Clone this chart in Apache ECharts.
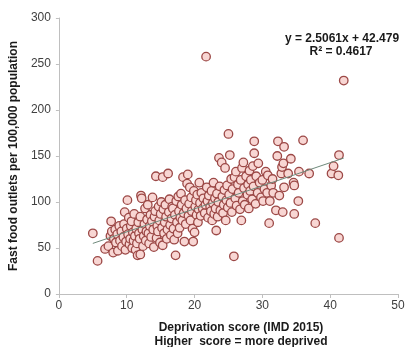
<!DOCTYPE html>
<html>
<head>
<meta charset="utf-8">
<script src="https://cdn.jsdelivr.net/npm/echarts@6/dist/echarts.min.js"></script>
<style>html,body{margin:0;padding:0;background:#fff}#c{width:417px;height:347px}</style>
</head>
<body>
<div id="c"></div>
<script>
// Deprivation score (x) vs fast food outlets per 100,000 (y)
const points = [
[5.0,66],[5.7,36],[6.8,49],[7.3,52],[7.6,63],[7.7,79],[7.8,68],[8.0,45],[8.1,60],[8.3,70],[8.4,56],[8.6,65],[8.7,47],[8.9,74],[9.0,58],
[9.2,68],[9.3,52],[9.5,62],[9.6,76],[9.7,89],[9.8,48],[9.9,57],[10.0,71],[10.1,102],[10.2,65],[10.3,83],[10.4,54],[10.5,60],[10.6,74],[10.7,79],[10.8,50],[10.9,67],[11.0,58],[11.1,87],[11.2,63],[11.3,48],[11.4,71],[11.5,55],[11.6,42],[11.7,78],[11.8,66],[11.9,60],
[12.0,43],[12.0,84],[12.1,107],[12.2,104],[12.3,70],[12.4,52],[12.5,63],[12.6,76],[12.7,93],[12.8,58],[12.9,68],[13.0,81],[13.1,97],[13.2,66],[13.3,55],[13.4,74],[13.5,86],[13.6,62],[13.7,79],[13.8,105],[13.9,70],
[14.0,51],[14.1,84],[14.2,90],[14.3,128],[14.4,61],[14.5,74],[14.6,68],[14.7,95],[14.8,80],[14.9,56],[15.0,87],[15.1,100],[15.2,72],[15.3,127],[15.3,53],[15.4,92],[15.5,66],[15.6,78],[15.7,97],[15.8,84],[15.9,60],
[16.0,70],[16.1,131],[16.2,89],[16.3,103],[16.4,75],[16.5,64],[16.6,82],[16.7,95],[16.8,93],[16.9,71],[17.0,59],[17.1,86],[17.2,42],[17.3,101],[17.4,78],[17.5,66],[17.6,106],[17.7,90],[17.8,72],[17.9,83],
[18.0,109],[18.1,97],[18.2,80],[18.3,127],[18.4,88],[18.5,57],[18.6,102],[18.7,76],[18.8,93],[18.9,120],[19.0,130],[19.1,85],[19.2,98],[19.3,116],[19.4,80],[19.5,105],[19.6,90],[19.7,71],[19.8,57],[19.9,112],
[20.0,67],[20.1,95],[20.2,102],[20.3,86],[20.4,108],[20.5,78],[20.6,92],[20.7,121],[20.8,99],[20.9,85],[21.0,110],[21.2,93],[21.3,104],[21.5,88],[21.6,97],[21.7,258],[21.8,116],[21.9,101],
[22.0,83],[22.1,107],[22.3,95],[22.4,90],[22.5,112],[22.6,80],[22.7,99],[22.8,121],[22.9,87],[23.0,104],[23.1,93],[23.2,69],[23.3,109],[23.4,84],[23.5,100],[23.6,148],[23.7,117],[23.8,91],
[24.0,143],[24.1,106],[24.2,88],[24.3,97],[24.4,113],[24.5,137],[24.6,80],[24.7,102],[24.8,118],[24.9,94],[25.0,174],[25.1,108],[25.2,151],[25.3,99],[25.4,125],[25.5,89],[25.6,114],[25.8,41],[25.9,127],
[26.0,104],[26.1,133],[26.2,96],[26.4,119],[26.5,110],[26.7,92],[26.8,124],[26.9,80],[27.0,137],[27.1,101],[27.2,143],[27.3,115],[27.4,97],[27.6,128],[27.8,108],[27.9,119],
[28.0,93],[28.1,134],[28.2,112],[28.3,124],[28.5,103],[28.6,139],[28.7,117],[28.8,153],[28.8,166],[29.0,98],[29.1,128],[29.3,110],[29.4,142],[29.6,121],[29.8,105],
[30.0,124],[30.1,101],[30.3,114],[30.5,133],[30.7,110],[30.8,129],[31.0,77],[31.1,101],[31.3,118],[31.5,125],[31.6,110],
[32.0,91],[32.2,150],[32.3,166],[32.5,107],[32.8,131],[32.9,138],[33.0,89],[33.1,142],[33.2,160],[33.2,116],[33.8,131],[34.2,147],[34.6,121],[34.7,87],[34.7,118],
[35.3,101],[35.4,133],[36.0,167],[36.9,131],[37.8,77],[40.2,131],[40.5,139],[41.2,129],[41.3,151],[41.3,61],[42.0,232]
];
// linear trend as reported on the chart: y = 2.5061x + 42.479
const trendSlope = 2.5061;
const trendIntercept = 42.479;
const trendX = [5, 42];
const xTicks = [0, 10, 20, 30, 40, 50];
const yTicks = [0, 50, 100, 150, 200, 250, 300];

const trend = trendX.map(x => [x, trendSlope * x + trendIntercept]);
const font = '"Liberation Sans", Arial, sans-serif';

const chart = echarts.init(document.getElementById('c'));
chart.setOption({
  animation: false,
  backgroundColor: '#fff',
  grid: {left: 49, right: 19, top: 18, bottom: 53, containLabel: false},
  xAxis: {
    type: 'value', min: xTicks[0], max: xTicks[xTicks.length-1], interval: 10,
    axisLine: {lineStyle: {color: '#bfbfbf', width: 1}},
    axisTick: {show: true, length: 4, lineStyle: {color: '#bfbfbf'}},
    axisLabel: {color: '#404040', fontFamily: font, fontSize: 12, margin: 6},
    splitLine: {show: false}
  },
  yAxis: {
    type: 'value', min: yTicks[0], max: yTicks[yTicks.length-1], interval: 50,
    name: 'Fast food outlets per 100,000 population',
    nameLocation: 'middle', nameGap: 36,
    nameTextStyle: {color: '#1a1a1a', fontFamily: font, fontSize: 12, fontWeight: 'bold'},
    axisLine: {show: true, lineStyle: {color: '#bfbfbf', width: 1}},
    axisTick: {show: true, length: 3, lineStyle: {color: '#bfbfbf'}},
    axisLabel: {color: '#404040', fontFamily: font, fontSize: 12, margin: 8},
    splitLine: {show: false}
  },
  title: {
    text: 'Deprivation score (IMD 2015)\nHigher  score = more deprived',
    left: 236, top: 316, textAlign: 'center',
    textStyle: {color: '#1a1a1a', fontFamily: font, fontSize: 12, fontWeight: 'bold', lineHeight: 14}
  },
  graphic: [
    {type: 'text', x: 342, y: 39, style: {text: 'y = 2.5061x + 42.479', textAlign: 'center', textVerticalAlign: 'middle', fill: '#1a1a1a', font: 'bold 12px ' + font}},
    {type: 'text', x: 341, y: 52, style: {text: 'R² = 0.4617', textAlign: 'center', textVerticalAlign: 'middle', fill: '#1a1a1a', font: 'bold 12px ' + font}}
  ],
  series: [
    {
      type: 'scatter', data: points, symbol: 'circle', symbolSize: 8.5,
      itemStyle: {color: '#f8d6d3', borderColor: '#9c4846', borderWidth: 1.3, opacity: 1}
    },
    {
      type: 'line', data: trend, symbol: 'none', z: 3,
      lineStyle: {color: '#6f8a7c', width: 1}
    }
  ]
});
</script>
</body>
</html>
